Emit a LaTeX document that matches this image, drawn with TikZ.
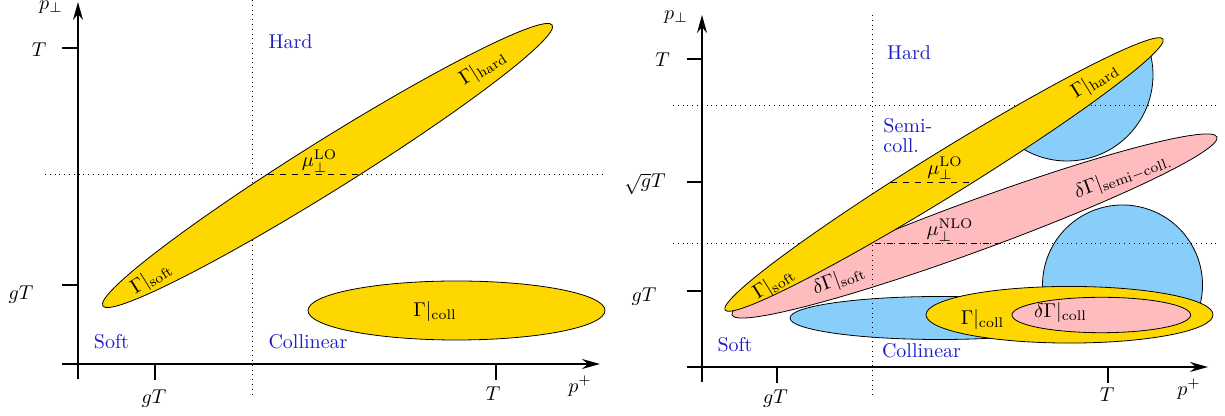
\documentclass[tikz,border=0pt]{standalone}
\usepackage{amsmath}
\usepackage{amssymb}
\usetikzlibrary{arrows.meta}
\definecolor{goldfill}{RGB}{255,215,0}
\definecolor{pinkfill}{RGB}{255,188,190}
\definecolor{bluefill}{RGB}{135,206,250}
\definecolor{regionblue}{RGB}{30,30,200}
\tikzset{
	axis/.style={thick,->},
	tick/.style={thick},
	guide/.style={dotted},
	cut/.style={dashed},
	region/.style={regionblue},
	goldblob/.style={draw=black,fill=goldfill},
	pinkblob/.style={draw=black,fill=pinkfill},
	blueblob/.style={draw=black,fill=bluefill}
}

\begin{document}
\begin{tikzpicture}[x=0.5pt,y=0.5pt,>={Stealth[length=9pt,width=5pt]}]
					\useasboundingbox (0,0) rectangle (1225,416);
					
					% leading order
					\draw[guide] (252,416) -- (252,20);
					\draw[guide] (45,242) -- (605,242);
					\draw[goldblob, rotate around={32:(327.5,250.5)}] (327.5,250.5) ellipse (265 and 25);
					\draw[goldblob] (456.5,105.5) ellipse (148.5 and 29.5);
					\coordinate (loA) at (267.8,242);
					\coordinate (loB) at (360.9,242);
					\draw[cut] (loA) -- (loB);
					
					\draw[axis] (78,37) -- (78,414);
					\draw[axis] (62,52) -- (600,52);
					\draw[tick] (62,368) -- (78,368);
					\draw[tick] (62,131) -- (78,131);
					\draw[tick] (155,52) -- (155,36);
					\draw[tick] (496,52) -- (496,36);
					
					\node (pperpL) at (51,409) {$p_\perp$};
					\node (pplusL) at (580,30) {$p^+$};
					\node (TyL) at (39,366) {$T$};
					\node (gTyL) at (21,121) {$gT$};
					\node (gTxL) at (154,17) {$gT$};
					\node (TxL) at (493,22) {$T$};
					\node[region] (hardL) at (290.5,374) {Hard};
					\node[region] (collL) at (308,74) {Collinear};
					\node[region] (softL) at (111.5,74) {Soft};
					\node (muL) at (319.5,255) {$\mu_\perp^{\mathrm{LO}}$};
					\node[rotate=32] (hardGL) at (483,348) {$\Gamma|_{\mathrm{hard}}$};
					\node[rotate=32] (softGL) at (151.5,137.5) {$\Gamma|_{\mathrm{soft}}$};
					\node (collGL) at (435,104) {$\Gamma|_{\mathrm{coll}}$};
					
					% next-to-leading order
					\draw[blueblob] (940,98) ellipse (150 and 21.5);
					\draw[blueblob] (1067,341) ++(-125:86) arc[start angle=-125,end angle=15,radius=86] -- cycle;
					\draw[blueblob] (1122.5,131) ++(-14.48:80) arc[start angle=-14.48,end angle=194.48,radius=80] -- cycle;
					\draw[pinkblob, rotate around={20.15:(974.5,190)}] (974.5,190) ellipse (258.3 and 25);
					\draw[guide] (872,401) -- (872,19);
					\draw[guide] (673,311) -- (1217,311);
					\draw[guide] (673,173) -- (1217,173);
					\coordinate (nloA) at (862.6,173);
					\coordinate (nloB) at (1000.5,173);
					\draw[cut] (nloA) -- (nloB);
					\draw[goldblob, rotate around={31.75:(944,241.5)}] (944,241.5) ellipse (257.5 and 22);
					\coordinate (loC) at (890.8,234);
					\coordinate (loD) at (973.5,234);
					\draw[cut] (loC) -- (loD);
					\draw[goldblob] (1069.5,101.25) ellipse (143.5 and 28.3);
					\draw[pinkblob] (1101.3,101) ellipse (89.3 and 17.7);
					
					\draw[axis] (702,34) -- (702,401);
					\draw[axis] (687,49) -- (1208,49);
					\draw[tick] (687,357) -- (702,357);
					\draw[tick] (687,234) -- (702,234);
					\draw[tick] (687,125) -- (702,125);
					\draw[tick] (777,49) -- (777,33);
					\draw[tick] (1108,49) -- (1108,33);
					
					\node (pperpR) at (676,398.5) {$p_\perp$};
					\node (pplusR) at (1189,27) {$p^+$};
					\node (TyR) at (662.5,356) {$T$};
					\node (sqrtyR) at (645,232) {$\sqrt{g}T$};
					\node (gTyR) at (644,119) {$gT$};
					\node (gTxR) at (775.5,17) {$gT$};
					\node (TxR) at (1107,21) {$T$};
					\node[region] (hardR) at (909,363.5) {Hard};
					\node[region, align=left, anchor=north west, inner sep=0pt] (semiR) at (883,298) {Semi-\\[-2pt]coll.};
					\node[region] (collR) at (921.5,65.5) {Collinear};
					\node[region] (softR) at (735,71.5) {Soft};
					\node (muLOR) at (945,247.5) {$\mu_\perp^{\mathrm{LO}}$};
					\node (muNLOR) at (950,186) {$\mu_\perp^{\mathrm{NLO}}$};
					\node[rotate=31.75] (hardGR) at (1095,335) {$\Gamma|_{\mathrm{hard}}$};
					\node[rotate=31.75] (softGR) at (774,132) {$\Gamma|_{\mathrm{soft}}$};
					\node[rotate=20.15] (semiGR) at (1123,240) {$\delta\Gamma|_{\mathrm{semi{-}coll.}}$};
					\node[rotate=20.15] (softdGR) at (839,136) {$\delta\Gamma|_{\mathrm{soft}}$};
					\node (collGR) at (982.5,96) {$\Gamma|_{\mathrm{coll}}$};
					\node (colldGR) at (1060.5,103) {$\delta\Gamma|_{\mathrm{coll}}$};
				\end{tikzpicture}
\end{document}
